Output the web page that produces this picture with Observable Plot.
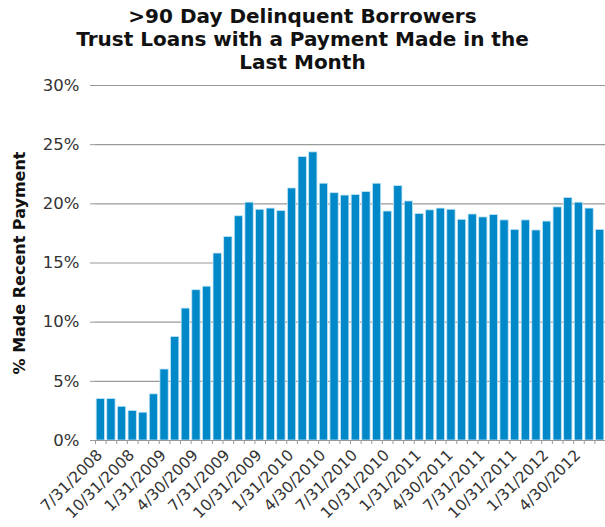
<!DOCTYPE html>
<html>
<head>
<meta charset="utf-8">
<script src="https://cdn.jsdelivr.net/npm/d3@7"></script>
<script src="https://cdn.jsdelivr.net/npm/@observablehq/plot@0.6"></script>
<style>
  body { margin: 0; background: #fff; font-family: "DejaVu Sans", Verdana, sans-serif; }
  #title { width: 605px; height: 74px; box-sizing: border-box; padding-top: 5px; text-align: center;
           font-weight: bold; font-size: 20px; line-height: 23px; color: #111; }
</style>
</head>
<body>
<div id="title">&gt;90 Day Delinquent Borrowers<br>Trust Loans with a Payment Made in the<br>Last Month</div>
<div id="chart"></div>
<script>
const months = [
  "7/31/2008","8/31/2008","9/30/2008","10/31/2008","11/30/2008","12/31/2008",
  "1/31/2009","2/28/2009","3/31/2009","4/30/2009","5/31/2009","6/30/2009",
  "7/31/2009","8/31/2009","9/30/2009","10/31/2009","11/30/2009","12/31/2009",
  "1/31/2010","2/28/2010","3/31/2010","4/30/2010","5/31/2010","6/30/2010",
  "7/31/2010","8/31/2010","9/30/2010","10/31/2010","11/30/2010","12/31/2010",
  "1/31/2011","2/28/2011","3/31/2011","4/30/2011","5/31/2011","6/30/2011",
  "7/31/2011","8/31/2011","9/30/2011","10/31/2011","11/30/2011","12/31/2011",
  "1/31/2012","2/29/2012","3/31/2012","4/30/2012","5/31/2012","6/30/2012"
];
const pctPaid = [
  3.5, 3.5, 2.85, 2.5, 2.35, 3.9,
  6.0, 8.75, 11.15, 12.7, 13.0, 15.8,
  17.2, 18.95, 20.1, 19.5, 19.6, 19.4,
  21.3, 23.95, 24.35, 21.7, 20.9, 20.7,
  20.75, 21.0, 21.7, 19.35, 21.5, 20.2,
  19.15, 19.45, 19.6, 19.5, 18.65, 19.1,
  18.85, 19.05, 18.6, 17.8, 18.6, 17.75,
  18.5, 19.7, 20.5, 20.1, 19.6, 17.8
];
const labeledMonths = [
  "7/31/2008","10/31/2008","1/31/2009","4/30/2009","7/31/2009","10/31/2009",
  "1/31/2010","4/30/2010","7/31/2010","10/31/2010","1/31/2011","4/30/2011",
  "7/31/2011","10/31/2011","1/31/2012","4/30/2012"
];
const yTicks = [0, 5, 10, 15, 20, 25, 30];
const yLabel = "% Made Recent Payment";

const data = months.map((m, i) => ({month: m, value: pctPaid[i]}));

const chart = Plot.plot({
  width: 605,
  height: 453,
  marginTop: 11,
  marginBottom: 87,
  marginLeft: 95,
  marginRight: 0,
  style: {fontFamily: "'DejaVu Sans', Verdana, sans-serif", background: "#fff", color: "#333"},
  x: {type: "band", domain: months, paddingInner: 0.22, paddingOuter: 0.11, round: false},
  y: {domain: [0, 30]},
  marks: [
    Plot.gridY(yTicks, {stroke: "#999", strokeOpacity: 1, strokeWidth: 1.2}),
    Plot.barY(data, {x: "month", y: "value", fill: "#0088c8", stroke: "#c4e6f5", strokeWidth: 0.8}),
    Plot.ruleY([0], {stroke: "#999", strokeWidth: 1.2}),
    Plot.ruleX([0], {frameAnchor: "left", stroke: "#999", strokeWidth: 1.2}),
    Plot.axisY({ticks: yTicks, tickFormat: d => d + "%", tickSize: 5, stroke: "#999", tickPadding: 11, fontSize: 16.5, label: null}),
    Plot.axisX({ticks: months, tickSize: 4, dx: -5.3, stroke: "#999", tickFormat: () => "", label: null}),
    Plot.axisX({ticks: months, tickSize: 0, tickRotate: -45, fontSize: 15.5, tickPadding: 12, dx: -1,
                tickFormat: d => labeledMonths.includes(d) ? d : "", label: null}),
    Plot.text([yLabel], {frameAnchor: "left", textAnchor: "middle", rotate: -90, dx: -76, fontSize: 16, fontWeight: "bold", fill: "#111"})
  ]
});
document.getElementById("chart").appendChild(chart);
</script>
</body>
</html>
